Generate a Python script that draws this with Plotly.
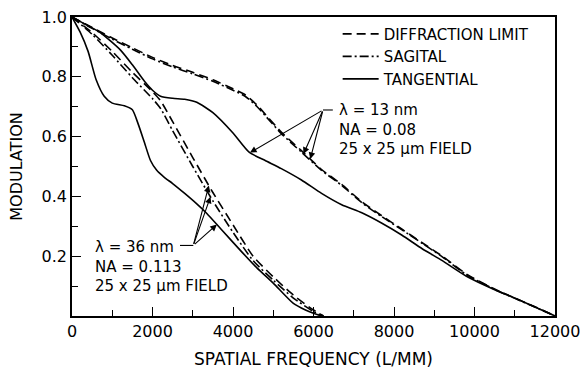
import numpy as np
import plotly.graph_objects as go

# ---------------- data ----------------
# lambda = 13 nm, NA = 0.08
f13_dl = [0, 500, 1000, 1500, 2000, 2500, 3000, 3500, 4000, 4300, 4600, 4900, 5200, 5700,
          6200, 6700, 7200, 7700, 8200, 8700, 9200, 9800, 10500, 11000, 11500, 12000]
dl13 = [1.0, 0.965, 0.93, 0.897, 0.865, 0.838, 0.815, 0.79, 0.76, 0.74, 0.705, 0.66, 0.615,
        0.553, 0.49, 0.44, 0.382, 0.335, 0.29, 0.245, 0.2, 0.14, 0.09, 0.06, 0.031, 0.0]
sag13 = [1.0, 0.962, 0.926, 0.892, 0.86, 0.833, 0.81, 0.785, 0.755, 0.735, 0.7, 0.655, 0.61,
         0.548, 0.487, 0.437, 0.379, 0.332, 0.288, 0.243, 0.198, 0.138, 0.089, 0.059, 0.03, 0.0]
f13_tan = [0, 300, 700, 1200, 1500, 1800, 2000, 2200, 2500, 2800, 3100, 3500, 4000, 4400,
           4800, 5200, 5700, 6200, 6700, 7200, 7700, 8200, 8700, 9200, 9800, 10500, 11000,
           11500, 12000]
tan13 = [1.0, 0.978, 0.948, 0.89, 0.84, 0.785, 0.755, 0.735, 0.728, 0.725, 0.715, 0.68,
         0.612, 0.548, 0.52, 0.493, 0.455, 0.41, 0.372, 0.345, 0.31, 0.27, 0.225, 0.185,
         0.133, 0.088, 0.06, 0.03, 0.0]

# lambda = 36 nm, NA = 0.113
f36_dl = [0, 500, 1000, 1500, 2000, 2200, 2500, 3000, 3500, 4000, 4500, 5000, 5500, 6000, 6250]
dl36 = [1.0, 0.948, 0.885, 0.815, 0.75, 0.72, 0.65, 0.53, 0.413, 0.305, 0.2, 0.131, 0.07, 0.02, 0.0]
sag36 = [1.0, 0.942, 0.872, 0.797, 0.727, 0.694, 0.62, 0.50, 0.385, 0.28, 0.185, 0.12, 0.06, 0.015, 0.0]
f36_tan = [0, 200, 400, 600, 800, 1000, 1300, 1500, 1650, 1800, 1950, 2100, 2300, 2500, 2800,
           3100, 3350, 3700, 4200, 4600, 5000, 5500, 5800, 6000, 6200]
tan36 = [1.0, 0.95, 0.885, 0.79, 0.735, 0.712, 0.703, 0.69, 0.64, 0.58, 0.52, 0.488, 0.463,
         0.443, 0.41, 0.375, 0.343, 0.291, 0.217, 0.16, 0.11, 0.042, 0.02, 0.009, 0.0]

x_ticks = [0, 2000, 4000, 6000, 8000, 10000, 12000]
x_tick_labels = ["0", "2000", "4000", "6000", "8000", "10000", "12000"]
y_ticks = [0.2, 0.4, 0.6, 0.8, 1.0]
y_tick_labels = ["0.2", "0.4", "0.6", "0.8", "1.0"]

legend_names = ["DIFFRACTION LIMIT", "SAGITAL", "TANGENTIAL"]
label13 = "λ = 13 nm<br>NA = 0.08<br>25 x 25 μm FIELD"
label36 = "λ = 36 nm<br>NA = 0.113<br>25 x 25 μm FIELD"
# arrow targets (spatial frequency on each curve)
arrow13_f = {"tan": 4422, "sag": 5750, "dl": 5920}
arrow36_f = {"dl": 3400, "sag": 3440, "tan": 3600}

# ---------------- figure ----------------
FONT = "DejaVu Sans"
DASH = "9px,5px"
DASHDOT = "9px,3px,2px,3px"
LW = 1.6

fig = go.Figure()

def add(x, y, dash, name, show):
    fig.add_trace(go.Scatter(x=x, y=y, mode="lines", name=name, showlegend=show,
                             line=dict(color="black", width=LW, dash=dash, shape="spline",
                                       smoothing=0.6)))

add(f13_dl, dl13, DASH, legend_names[0], True)
add(f13_dl, sag13, DASHDOT, legend_names[1], True)
add(f13_tan, tan13, "solid", legend_names[2], True)
add(f36_dl, dl36, DASH, legend_names[0], False)
add(f36_dl, sag36, DASHDOT, legend_names[1], False)
add(f36_tan, tan36, "solid", legend_names[2], False)

curves13 = {"dl": (f13_dl, dl13), "sag": (f13_dl, sag13), "tan": (f13_tan, tan13)}
curves36 = {"dl": (f36_dl, dl36), "sag": (f36_dl, sag36), "tan": (f36_tan, tan36)}

annotations = []
shapes = []

def arrows(targets, curves, apex, leader_end, text_x, text_y, label):
    for key, fx in targets.items():
        xs, ys = curves[key]
        fy = float(np.interp(fx, xs, ys))
        annotations.append(dict(x=fx, y=fy, ax=apex[0], ay=apex[1], xref="x", yref="y",
                                axref="x", ayref="y", text="", showarrow=True,
                                arrowhead=2, arrowsize=1.2, arrowwidth=1.1,
                                arrowcolor="black"))
    shapes.append(dict(type="line", xref="x", yref="y", x0=apex[0], y0=apex[1],
                       x1=leader_end, y1=apex[1], line=dict(color="black", width=1.1)))
    annotations.append(dict(x=text_x, y=text_y, xref="x", yref="y", text=label,
                            showarrow=False, xanchor="left", yanchor="middle", align="left",
                            font=dict(family=FONT, size=15, color="black")))

arrows(arrow13_f, curves13, (6236, 0.689), 6480, 6580, 0.624, label13)
arrows(arrow36_f, curves36, (3014, 0.236), 2683, 520, 0.167, label36)

axis_common = dict(showline=True, linecolor="black", linewidth=1.5, mirror=True,
                   ticks="inside", tickcolor="black", tickwidth=1.3, ticklen=9,
                   showgrid=False, zeroline=False,
                   tickfont=dict(family=FONT, size=16, color="black"))

fig.update_layout(
    width=585, height=369,
    margin=dict(l=72, r=30, t=17, b=53, autoexpand=False),
    paper_bgcolor="white", plot_bgcolor="white",
    font=dict(family=FONT, size=16, color="black"),
    showlegend=True,
    legend=dict(x=0.55, y=0.998, xanchor="left", yanchor="top",
                bgcolor="rgba(0,0,0,0)", font=dict(family=FONT, size=15, color="black"),
                itemwidth=36, tracegroupgap=0),
    annotations=annotations,
    shapes=shapes,
    xaxis=dict(range=[0, 12000], tickmode="array", tickvals=x_ticks, ticktext=x_tick_labels,
               minor=dict(ticks="inside", dtick=1000, tick0=0, ticklen=6, tickcolor="black",
                          tickwidth=1.2),
               automargin=True,
               title=dict(text="SPATIAL FREQUENCY (L/MM)", standoff=14,
                          font=dict(family=FONT, size=17, color="black")),
               **axis_common),
    yaxis=dict(range=[0, 1.0], tickmode="array", tickvals=y_ticks, ticktext=y_tick_labels,
               minor=dict(ticks="inside", dtick=0.1, tick0=0, ticklen=6, tickcolor="black",
                          tickwidth=1.2),
               automargin=False,
               title=dict(text="MODULATION", standoff=15,
                          font=dict(family=FONT, size=16, color="black")),
               **axis_common),
)

fig.write_html("out.html", config={"displayModeBar": False},
               post_script="document.body.style.margin='0px';"
                           "document.body.style.overflow='hidden';")
